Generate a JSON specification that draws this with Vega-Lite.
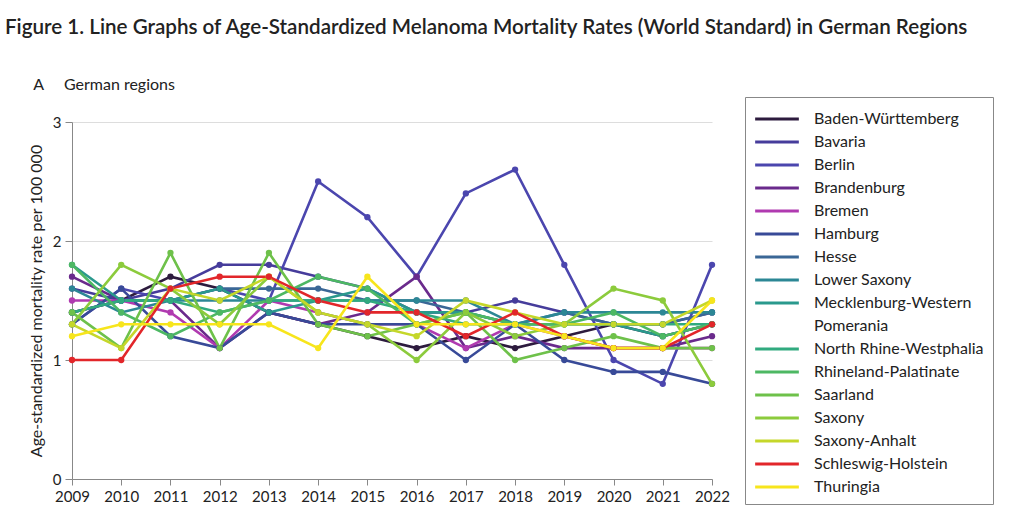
{
  "$schema": "https://vega.github.io/schema/vega-lite/v6.json",
  "autosize": {"type": "none"},
  "padding": {"left": 72, "top": 122, "right": 312, "bottom": 38},
  "width": 640,
  "height": 357,
  "background": "white",
  "title": {
    "text": "Figure 1. Line Graphs of Age-Standardized Melanoma Mortality Rates (World Standard) in German Regions",
    "subtitle": "\u200b\u00a0\u00a0\u00a0\u00a0\u00a0\u00a0\u00a0A\u00a0\u00a0\u00a0\u00a0\u00a0German regions",
    "anchor": "start",
    "frame": "group",
    "dx": -67,
    "offset": 4,
    "font": "Lato",
    "fontSize": 20.6,
    "fontWeight": 600,
    "color": "#222222",
    "subtitleFont": "Lato",
    "subtitleFontSize": 16,
    "subtitleColor": "#222222",
    "subtitlePadding": 38
  },
  "data": {
    "values": [
      {"region": "Baden-Württemberg", "year": 2009, "rate": 1.4}, {"region": "Baden-Württemberg", "year": 2010, "rate": 1.5}, {"region": "Baden-Württemberg", "year": 2011, "rate": 1.7}, {"region": "Baden-Württemberg", "year": 2012, "rate": 1.6}, {"region": "Baden-Württemberg", "year": 2013, "rate": 1.4}, {"region": "Baden-Württemberg", "year": 2014, "rate": 1.3}, {"region": "Baden-Württemberg", "year": 2015, "rate": 1.2}, {"region": "Baden-Württemberg", "year": 2016, "rate": 1.1}, {"region": "Baden-Württemberg", "year": 2017, "rate": 1.2}, {"region": "Baden-Württemberg", "year": 2018, "rate": 1.1}, {"region": "Baden-Württemberg", "year": 2019, "rate": 1.2}, {"region": "Baden-Württemberg", "year": 2020, "rate": 1.3}, {"region": "Baden-Württemberg", "year": 2021, "rate": 1.2}, {"region": "Baden-Württemberg", "year": 2022, "rate": 1.3},
      {"region": "Bavaria", "year": 2009, "rate": 1.6}, {"region": "Bavaria", "year": 2010, "rate": 1.5}, {"region": "Bavaria", "year": 2011, "rate": 1.6}, {"region": "Bavaria", "year": 2012, "rate": 1.8}, {"region": "Bavaria", "year": 2013, "rate": 1.8}, {"region": "Bavaria", "year": 2014, "rate": 1.7}, {"region": "Bavaria", "year": 2015, "rate": 1.6}, {"region": "Bavaria", "year": 2016, "rate": 1.4}, {"region": "Bavaria", "year": 2017, "rate": 1.4}, {"region": "Bavaria", "year": 2018, "rate": 1.5}, {"region": "Bavaria", "year": 2019, "rate": 1.4}, {"region": "Bavaria", "year": 2020, "rate": 1.3}, {"region": "Bavaria", "year": 2021, "rate": 1.3}, {"region": "Bavaria", "year": 2022, "rate": 1.4},
      {"region": "Berlin", "year": 2009, "rate": 1.3}, {"region": "Berlin", "year": 2010, "rate": 1.6}, {"region": "Berlin", "year": 2011, "rate": 1.5}, {"region": "Berlin", "year": 2012, "rate": 1.6}, {"region": "Berlin", "year": 2013, "rate": 1.5}, {"region": "Berlin", "year": 2014, "rate": 2.5}, {"region": "Berlin", "year": 2015, "rate": 2.2}, {"region": "Berlin", "year": 2016, "rate": 1.7}, {"region": "Berlin", "year": 2017, "rate": 2.4}, {"region": "Berlin", "year": 2018, "rate": 2.6}, {"region": "Berlin", "year": 2019, "rate": 1.8}, {"region": "Berlin", "year": 2020, "rate": 1.0}, {"region": "Berlin", "year": 2021, "rate": 0.8}, {"region": "Berlin", "year": 2022, "rate": 1.8},
      {"region": "Brandenburg", "year": 2009, "rate": 1.7}, {"region": "Brandenburg", "year": 2010, "rate": 1.5}, {"region": "Brandenburg", "year": 2011, "rate": 1.5}, {"region": "Brandenburg", "year": 2012, "rate": 1.1}, {"region": "Brandenburg", "year": 2013, "rate": 1.4}, {"region": "Brandenburg", "year": 2014, "rate": 1.3}, {"region": "Brandenburg", "year": 2015, "rate": 1.4}, {"region": "Brandenburg", "year": 2016, "rate": 1.7}, {"region": "Brandenburg", "year": 2017, "rate": 1.1}, {"region": "Brandenburg", "year": 2018, "rate": 1.2}, {"region": "Brandenburg", "year": 2019, "rate": 1.1}, {"region": "Brandenburg", "year": 2020, "rate": 1.1}, {"region": "Brandenburg", "year": 2021, "rate": 1.1}, {"region": "Brandenburg", "year": 2022, "rate": 1.2},
      {"region": "Bremen", "year": 2009, "rate": 1.5}, {"region": "Bremen", "year": 2010, "rate": 1.5}, {"region": "Bremen", "year": 2011, "rate": 1.4}, {"region": "Bremen", "year": 2012, "rate": 1.1}, {"region": "Bremen", "year": 2013, "rate": 1.5}, {"region": "Bremen", "year": 2014, "rate": 1.4}, {"region": "Bremen", "year": 2015, "rate": 1.3}, {"region": "Bremen", "year": 2016, "rate": 1.3}, {"region": "Bremen", "year": 2017, "rate": 1.1}, {"region": "Bremen", "year": 2018, "rate": 1.3}, {"region": "Bremen", "year": 2019, "rate": 1.2}, {"region": "Bremen", "year": 2020, "rate": 1.1}, {"region": "Bremen", "year": 2021, "rate": 1.1}, {"region": "Bremen", "year": 2022, "rate": 1.1},
      {"region": "Hamburg", "year": 2009, "rate": 1.3}, {"region": "Hamburg", "year": 2010, "rate": 1.6}, {"region": "Hamburg", "year": 2011, "rate": 1.2}, {"region": "Hamburg", "year": 2012, "rate": 1.1}, {"region": "Hamburg", "year": 2013, "rate": 1.4}, {"region": "Hamburg", "year": 2014, "rate": 1.3}, {"region": "Hamburg", "year": 2015, "rate": 1.3}, {"region": "Hamburg", "year": 2016, "rate": 1.3}, {"region": "Hamburg", "year": 2017, "rate": 1.0}, {"region": "Hamburg", "year": 2018, "rate": 1.3}, {"region": "Hamburg", "year": 2019, "rate": 1.0}, {"region": "Hamburg", "year": 2020, "rate": 0.9}, {"region": "Hamburg", "year": 2021, "rate": 0.9}, {"region": "Hamburg", "year": 2022, "rate": 0.8},
      {"region": "Hesse", "year": 2009, "rate": 1.4}, {"region": "Hesse", "year": 2010, "rate": 1.5}, {"region": "Hesse", "year": 2011, "rate": 1.5}, {"region": "Hesse", "year": 2012, "rate": 1.6}, {"region": "Hesse", "year": 2013, "rate": 1.6}, {"region": "Hesse", "year": 2014, "rate": 1.6}, {"region": "Hesse", "year": 2015, "rate": 1.5}, {"region": "Hesse", "year": 2016, "rate": 1.5}, {"region": "Hesse", "year": 2017, "rate": 1.4}, {"region": "Hesse", "year": 2018, "rate": 1.3}, {"region": "Hesse", "year": 2019, "rate": 1.4}, {"region": "Hesse", "year": 2020, "rate": 1.3}, {"region": "Hesse", "year": 2021, "rate": 1.3}, {"region": "Hesse", "year": 2022, "rate": 1.4},
      {"region": "Lower Saxony", "year": 2009, "rate": 1.6}, {"region": "Lower Saxony", "year": 2010, "rate": 1.4}, {"region": "Lower Saxony", "year": 2011, "rate": 1.5}, {"region": "Lower Saxony", "year": 2012, "rate": 1.5}, {"region": "Lower Saxony", "year": 2013, "rate": 1.5}, {"region": "Lower Saxony", "year": 2014, "rate": 1.5}, {"region": "Lower Saxony", "year": 2015, "rate": 1.5}, {"region": "Lower Saxony", "year": 2016, "rate": 1.5}, {"region": "Lower Saxony", "year": 2017, "rate": 1.5}, {"region": "Lower Saxony", "year": 2018, "rate": 1.3}, {"region": "Lower Saxony", "year": 2019, "rate": 1.4}, {"region": "Lower Saxony", "year": 2020, "rate": 1.4}, {"region": "Lower Saxony", "year": 2021, "rate": 1.4}, {"region": "Lower Saxony", "year": 2022, "rate": 1.4},
      {"region": "Mecklenburg-Western Pomerania", "year": 2009, "rate": 1.8}, {"region": "Mecklenburg-Western Pomerania", "year": 2010, "rate": 1.5}, {"region": "Mecklenburg-Western Pomerania", "year": 2011, "rate": 1.5}, {"region": "Mecklenburg-Western Pomerania", "year": 2012, "rate": 1.6}, {"region": "Mecklenburg-Western Pomerania", "year": 2013, "rate": 1.4}, {"region": "Mecklenburg-Western Pomerania", "year": 2014, "rate": 1.5}, {"region": "Mecklenburg-Western Pomerania", "year": 2015, "rate": 1.6}, {"region": "Mecklenburg-Western Pomerania", "year": 2016, "rate": 1.4}, {"region": "Mecklenburg-Western Pomerania", "year": 2017, "rate": 1.4}, {"region": "Mecklenburg-Western Pomerania", "year": 2018, "rate": 1.3}, {"region": "Mecklenburg-Western Pomerania", "year": 2019, "rate": 1.3}, {"region": "Mecklenburg-Western Pomerania", "year": 2020, "rate": 1.3}, {"region": "Mecklenburg-Western Pomerania", "year": 2021, "rate": 1.2}, {"region": "Mecklenburg-Western Pomerania", "year": 2022, "rate": 1.3},
      {"region": "North Rhine-Westphalia", "year": 2009, "rate": 1.4}, {"region": "North Rhine-Westphalia", "year": 2010, "rate": 1.5}, {"region": "North Rhine-Westphalia", "year": 2011, "rate": 1.5}, {"region": "North Rhine-Westphalia", "year": 2012, "rate": 1.4}, {"region": "North Rhine-Westphalia", "year": 2013, "rate": 1.5}, {"region": "North Rhine-Westphalia", "year": 2014, "rate": 1.5}, {"region": "North Rhine-Westphalia", "year": 2015, "rate": 1.5}, {"region": "North Rhine-Westphalia", "year": 2016, "rate": 1.4}, {"region": "North Rhine-Westphalia", "year": 2017, "rate": 1.3}, {"region": "North Rhine-Westphalia", "year": 2018, "rate": 1.3}, {"region": "North Rhine-Westphalia", "year": 2019, "rate": 1.3}, {"region": "North Rhine-Westphalia", "year": 2020, "rate": 1.3}, {"region": "North Rhine-Westphalia", "year": 2021, "rate": 1.3}, {"region": "North Rhine-Westphalia", "year": 2022, "rate": 1.3},
      {"region": "Rhineland-Palatinate", "year": 2009, "rate": 1.8}, {"region": "Rhineland-Palatinate", "year": 2010, "rate": 1.4}, {"region": "Rhineland-Palatinate", "year": 2011, "rate": 1.2}, {"region": "Rhineland-Palatinate", "year": 2012, "rate": 1.4}, {"region": "Rhineland-Palatinate", "year": 2013, "rate": 1.5}, {"region": "Rhineland-Palatinate", "year": 2014, "rate": 1.7}, {"region": "Rhineland-Palatinate", "year": 2015, "rate": 1.6}, {"region": "Rhineland-Palatinate", "year": 2016, "rate": 1.3}, {"region": "Rhineland-Palatinate", "year": 2017, "rate": 1.4}, {"region": "Rhineland-Palatinate", "year": 2018, "rate": 1.3}, {"region": "Rhineland-Palatinate", "year": 2019, "rate": 1.3}, {"region": "Rhineland-Palatinate", "year": 2020, "rate": 1.4}, {"region": "Rhineland-Palatinate", "year": 2021, "rate": 1.2}, {"region": "Rhineland-Palatinate", "year": 2022, "rate": 1.3},
      {"region": "Saarland", "year": 2009, "rate": 1.4}, {"region": "Saarland", "year": 2010, "rate": 1.1}, {"region": "Saarland", "year": 2011, "rate": 1.9}, {"region": "Saarland", "year": 2012, "rate": 1.1}, {"region": "Saarland", "year": 2013, "rate": 1.9}, {"region": "Saarland", "year": 2014, "rate": 1.3}, {"region": "Saarland", "year": 2015, "rate": 1.2}, {"region": "Saarland", "year": 2016, "rate": 1.3}, {"region": "Saarland", "year": 2017, "rate": 1.4}, {"region": "Saarland", "year": 2018, "rate": 1.0}, {"region": "Saarland", "year": 2019, "rate": 1.1}, {"region": "Saarland", "year": 2020, "rate": 1.2}, {"region": "Saarland", "year": 2021, "rate": 1.1}, {"region": "Saarland", "year": 2022, "rate": 1.1},
      {"region": "Saxony", "year": 2009, "rate": 1.3}, {"region": "Saxony", "year": 2010, "rate": 1.8}, {"region": "Saxony", "year": 2011, "rate": 1.6}, {"region": "Saxony", "year": 2012, "rate": 1.3}, {"region": "Saxony", "year": 2013, "rate": 1.7}, {"region": "Saxony", "year": 2014, "rate": 1.4}, {"region": "Saxony", "year": 2015, "rate": 1.3}, {"region": "Saxony", "year": 2016, "rate": 1.0}, {"region": "Saxony", "year": 2017, "rate": 1.4}, {"region": "Saxony", "year": 2018, "rate": 1.2}, {"region": "Saxony", "year": 2019, "rate": 1.3}, {"region": "Saxony", "year": 2020, "rate": 1.6}, {"region": "Saxony", "year": 2021, "rate": 1.5}, {"region": "Saxony", "year": 2022, "rate": 0.8},
      {"region": "Saxony-Anhalt", "year": 2009, "rate": 1.3}, {"region": "Saxony-Anhalt", "year": 2010, "rate": 1.1}, {"region": "Saxony-Anhalt", "year": 2011, "rate": 1.6}, {"region": "Saxony-Anhalt", "year": 2012, "rate": 1.5}, {"region": "Saxony-Anhalt", "year": 2013, "rate": 1.7}, {"region": "Saxony-Anhalt", "year": 2014, "rate": 1.4}, {"region": "Saxony-Anhalt", "year": 2015, "rate": 1.3}, {"region": "Saxony-Anhalt", "year": 2016, "rate": 1.2}, {"region": "Saxony-Anhalt", "year": 2017, "rate": 1.5}, {"region": "Saxony-Anhalt", "year": 2018, "rate": 1.4}, {"region": "Saxony-Anhalt", "year": 2019, "rate": 1.3}, {"region": "Saxony-Anhalt", "year": 2020, "rate": 1.3}, {"region": "Saxony-Anhalt", "year": 2021, "rate": 1.3}, {"region": "Saxony-Anhalt", "year": 2022, "rate": 1.5},
      {"region": "Schleswig-Holstein", "year": 2009, "rate": 1.0}, {"region": "Schleswig-Holstein", "year": 2010, "rate": 1.0}, {"region": "Schleswig-Holstein", "year": 2011, "rate": 1.6}, {"region": "Schleswig-Holstein", "year": 2012, "rate": 1.7}, {"region": "Schleswig-Holstein", "year": 2013, "rate": 1.7}, {"region": "Schleswig-Holstein", "year": 2014, "rate": 1.5}, {"region": "Schleswig-Holstein", "year": 2015, "rate": 1.4}, {"region": "Schleswig-Holstein", "year": 2016, "rate": 1.4}, {"region": "Schleswig-Holstein", "year": 2017, "rate": 1.2}, {"region": "Schleswig-Holstein", "year": 2018, "rate": 1.4}, {"region": "Schleswig-Holstein", "year": 2019, "rate": 1.2}, {"region": "Schleswig-Holstein", "year": 2020, "rate": 1.1}, {"region": "Schleswig-Holstein", "year": 2021, "rate": 1.1}, {"region": "Schleswig-Holstein", "year": 2022, "rate": 1.3},
      {"region": "Thuringia", "year": 2009, "rate": 1.2}, {"region": "Thuringia", "year": 2010, "rate": 1.3}, {"region": "Thuringia", "year": 2011, "rate": 1.3}, {"region": "Thuringia", "year": 2012, "rate": 1.3}, {"region": "Thuringia", "year": 2013, "rate": 1.3}, {"region": "Thuringia", "year": 2014, "rate": 1.1}, {"region": "Thuringia", "year": 2015, "rate": 1.7}, {"region": "Thuringia", "year": 2016, "rate": 1.3}, {"region": "Thuringia", "year": 2017, "rate": 1.3}, {"region": "Thuringia", "year": 2018, "rate": 1.3}, {"region": "Thuringia", "year": 2019, "rate": 1.2}, {"region": "Thuringia", "year": 2020, "rate": 1.1}, {"region": "Thuringia", "year": 2021, "rate": 1.1}, {"region": "Thuringia", "year": 2022, "rate": 1.5}
    ]
  },
  "mark": {
    "type": "line",
    "strokeWidth": 2.6,
    "point": {"filled": true, "size": 40}
  },
  "encoding": {
    "x": {
      "field": "year",
      "type": "quantitative",
      "scale": {"domain": [2009, 2022], "nice": false, "zero": false},
      "axis": {
        "title": null,
        "values": [2009, 2010, 2011, 2012, 2013, 2014, 2015, 2016, 2017, 2018, 2019, 2020, 2021, 2022],
        "format": "d",
        "grid": false,
        "labelFlush": false,
        "labelPadding": 4,
        "tickSize": 6
      }
    },
    "y": {
      "field": "rate",
      "type": "quantitative",
      "scale": {"domain": [0, 3], "nice": false},
      "axis": {
        "title": "Age-standardized mortality rate per 100 000",
        "values": [0, 1, 2, 3],
        "grid": true,
        "tickSize": 7,
        "labelPadding": 4,
        "titlePadding": 8
      }
    },
    "color": {
      "field": "region",
      "type": "nominal",
      "scale": {
        "domain": ["Baden-Württemberg", "Bavaria", "Berlin", "Brandenburg", "Bremen", "Hamburg", "Hesse", "Lower Saxony", "Mecklenburg-Western Pomerania", "Pomerania", "North Rhine-Westphalia", "Rhineland-Palatinate", "Saarland", "Saxony", "Saxony-Anhalt", "Schleswig-Holstein", "Thuringia"],
        "range": ["#2d1b3e", "#463c9b", "#4b46ae", "#6a2a8c", "#b03ab0", "#384a98", "#3a6796", "#2c8795", "#2a998d", "transparent", "#31aa7f", "#4db863", "#6ec14a", "#8ccb3c", "#c5d72a", "#e2262a", "#f7e51c"]
      },
      "legend": {
        "title": null,
        "orient": "none",
        "legendX": 673,
        "legendY": -25,
        "padding": 9,
        "strokeColor": "#888888",
        "symbolType": "M-1.9,0H1.9",
        "symbolSize": 529,
        "symbolStrokeWidth": 3,
        "symbolOffset": 10,
        "labelFont": "Lato",
        "labelFontSize": 16,
        "labelColor": "#222222",
        "labelOffset": 24,
        "labelLimit": 300,
        "rowPadding": 2,
        "labelExpr": "datum.label == 'Mecklenburg-Western Pomerania' ? 'Mecklenburg-Western' : datum.label"
      }
    }
  },
  "config": {
    "view": {"stroke": null},
    "axis": {
      "labelFont": "Lato",
      "labelFontSize": 15,
      "labelColor": "#222222",
      "titleFont": "Lato",
      "titleFontSize": 16,
      "titleFontWeight": "normal",
      "titleColor": "#222222",
      "domainColor": "#888888",
      "tickColor": "#888888",
      "gridColor": "#dddddd"
    }
  }
}
